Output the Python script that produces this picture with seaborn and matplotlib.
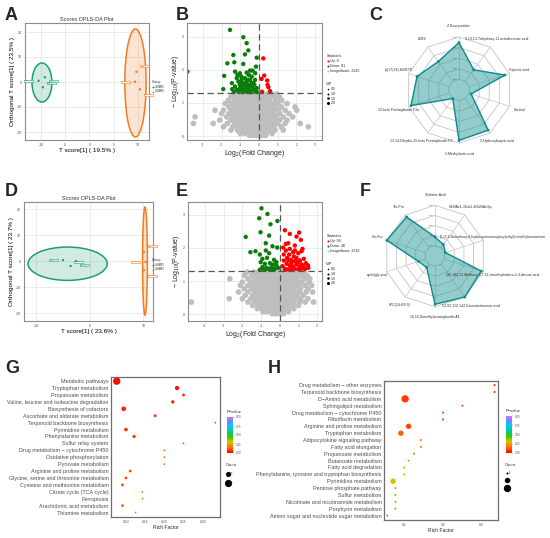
import numpy as np
import pandas as pd
import matplotlib
matplotlib.use("Agg")
import matplotlib.pyplot as plt
import seaborn as sns
from matplotlib.patches import Ellipse
from matplotlib.lines import Line2D
from matplotlib.colors import LinearSegmentedColormap, Normalize
from matplotlib.cm import ScalarMappable

# ---------------- data ----------------
group_names = ["G-HM5V", "G-HM6V"]
group_colors = ["#1B9E77", "#F47B20"]
sample_group = [0, 0, 0, 1, 1, 1]
sample_names = ["HM5V-1", "HM5V-2", "HM5V-3", "HM6V-1", "HM6V-2", "HM6V-3"]

# A: OPLS-DA scores
a_t = [-10.5, -9.6, -9.2, 9.7, 9.4, 10.4]
a_ortho = [0.5, -2.1, 1.9, 4.1, 0.1, -2.9]
a_ell_center = [(-9.8, -0.2), (9.5, -0.4)]
a_ell_size = [(4.1, 15.6), (4.4, 43.2)]
a_xlabel = "T score[1] ( 19.5% )"
a_ylabel = "Orthogonal T score[1] ( 23.5% )"

# D: OPLS-DA scores
d_t = [-5.0, -3.6, -2.6, 10.1, 10.4, 10.1]
d_ortho = [0.4, -1.9, 0.0, 3.6, -0.3, -3.5]
d_ell_center = [(-4.15, -1.0), (10.3, 0.0)]
d_ell_size = [(14.8, 12.8), (0.9, 41.5)]
d_xlabel = "T score[1] ( 23.6% )"
d_ylabel = "Orthogonal T score[1] ( 23.7% )"

# B: volcano
b_counts = [8, 81, 2325]
b_up_x = [0.23, 0.14, 0.28, 0.44, 0.46, 0.5, 0.59, 0.16]
b_up_y = [2.35, 1.73, 1.83, 1.68, 1.55, 1.48, 1.36, 1.34]
b_down_x = [-3.83, -1.55, -0.84, -0.66, -0.57, -0.75, -1.37, -1.32, -1.69, -0.84, -0.12, -0.34,
            -0.16, -1.86, -1.28, -1.02, -0.66, -0.48, -1.91, -1.43, -1.19, -1.1, -1.02, -0.93,
            -0.84, -0.75, -0.66, -0.57, -0.48, -0.39, -0.3, -0.21, -1.28, -1.19, -1.1, -1.02,
            -0.93, -0.84, -0.75, -0.66, -0.57, -0.48, -0.39, -0.3, -0.21, -0.12, -0.93, -0.75,
            -0.57, -0.39, -1.0, -0.7, -0.5, -0.25, -0.1, -1.35, -0.85, -0.6, -0.45, -0.2,
            -0.55, -1.15, -1.45, -0.95]
b_down_y = [1.95, 3.21, 2.99, 2.81, 2.59, 2.47, 2.45, 2.23, 2.2, 2.18, 2.37, 1.98,
            2.1, 1.82, 1.95, 1.9, 1.92, 1.98, 1.42, 1.42, 1.75, 1.65, 1.55, 1.7,
            1.6, 1.75, 1.65, 1.55, 1.7, 1.8, 1.6, 1.7, 1.5, 1.4, 1.35, 1.45,
            1.38, 1.48, 1.4, 1.35, 1.45, 1.38, 1.5, 1.42, 1.35, 1.45, 1.55, 1.55,
            1.7, 1.6, 1.62, 1.48, 1.52, 1.55, 1.33, 1.33, 1.33, 1.33, 1.33, 1.9,
            1.85, 1.85, 1.6, 1.8]
b_gray_rows = [
    (1.27, [-1.35, -1.1, -0.9, -0.7, -0.5, -0.35, -0.2, -0.05, 0.1, 0.25, 0.45, 0.7, 0.95]),
    (1.18, [-1.5, -1.2, -1.0, -0.8, -0.6, -0.45, -0.3, -0.15, 0.0, 0.15, 0.3, 0.5, 0.8, 1.1, 0.95]),
    (1.08, [-1.65, -1.3, -1.1, -0.9, -0.7, -0.55, -0.4, -0.25, -0.1, 0.05, 0.2, 0.35, 0.55, 0.9, 1.22]),
    (0.98, [-1.8, -1.45, -1.2, -1.0, -0.8, -0.65, -0.5, -0.35, -0.2, -0.05, 0.1, 0.25, 0.45, 0.7, 1.0, 1.5]),
    (0.88, [-1.6, -1.3, -1.05, -0.85, -0.7, -0.55, -0.4, -0.25, -0.1, 0.05, 0.2, 0.4, 0.6, 0.85, 1.2, 1.93]),
    (0.78, [-2.35, -1.9, -1.5, -1.2, -1.0, -0.8, -0.65, -0.5, -0.35, -0.2, -0.05, 0.1, 0.3, 0.5, 0.75, 1.05, 1.4, 2.02]),
    (0.68, [-2.0, -1.6, -1.3, -1.1, -0.9, -0.75, -0.6, -0.45, -0.3, -0.15, 0.0, 0.15, 0.35, 0.55, 0.8, 1.1, 1.6]),
    (0.58, [-3.42, -1.73, -1.4, -1.15, -0.95, -0.8, -0.65, -0.5, -0.35, -0.2, -0.05, 0.1, 0.25, 0.45, 0.65, 0.9, 1.3, 1.8]),
    (0.48, [-2.1, -1.5, -1.2, -1.0, -0.85, -0.7, -0.55, -0.4, -0.25, -0.1, 0.05, 0.2, 0.35, 0.55, 0.8, 1.1, 1.5]),
    (0.38, [-3.51, -2.45, -1.7, -1.3, -1.05, -0.9, -0.75, -0.6, -0.45, -0.3, -0.15, 0.0, 0.15, 0.3, 0.5, 0.7, 1.0, 1.4, 2.2]),
    (0.28, [-1.9, -1.4, -1.1, -0.9, -0.7, -0.55, -0.4, -0.25, -0.1, 0.05, 0.2, 0.35, 0.55, 0.8, 1.2, 2.64]),
    (0.18, [-1.5, -1.15, -0.9, -0.7, -0.55, -0.4, -0.25, -0.1, 0.05, 0.2, 0.35, 0.55, 0.85, 1.3]),
    (0.08, [-1.0, -0.75, -0.55, -0.4, -0.25, -0.1, 0.05, 0.2, 0.4, 0.7]),
    (0.02, [-0.5, -0.3, -0.15, 0.0, 0.15, 0.35]),
]

# E: volcano
e_counts = [58, 46, 2310]
e_up_x = [0.27, 0.53, 1.03, 0.89, 1.12, 0.32, 0.45, 0.18, 0.32, 0.53, 0.8, 1.21, 1.16, 0.21,
          0.5, 0.75, 0.89, 0.59, 0.8, 0.98, 1.28, 1.39, 0.36, 0.53, 0.71, 0.89, 1.07, 1.21,
          1.34, 0.27, 0.45, 0.62, 0.8, 0.98, 0.21, 0.71, 0.98, 0.39, 1.07, 1.52, 0.14, 0.62,
          1.16, 0.45, 0.8, 1.25, 0.3, 1.1, 1.5]
e_up_y = [2.53, 2.42, 2.46, 2.34, 2.24, 2.12, 2.14, 2.01, 1.92, 1.97, 2.07, 1.97, 1.9, 1.8,
          1.8, 1.74, 1.7, 1.64, 1.6, 1.57, 1.67, 1.54, 1.52, 1.47, 1.44, 1.5, 1.44, 1.4,
          1.37, 1.37, 1.36, 1.36, 1.37, 1.36, 1.62, 1.87, 1.84, 1.7, 1.62, 1.4, 1.45, 1.55,
          1.5, 1.62, 1.92, 1.45, 1.34, 1.34, 1.47]
e_down_x = [-0.98, -0.66, -1.1, -0.13, -0.5, -1.03, -1.82, -0.57, -0.75, -0.39, -0.14, -1.57,
            -1.3, -1.07, -0.75, -0.57, -0.93, -0.68, -0.31, -1.02, -0.8, -0.53, -0.18, -0.93,
            -0.71, -0.44, -0.27, -0.09, -0.62, -0.86, -0.18, -0.36, -0.53, -0.8, -0.32, -1.07]
e_down_y = [3.19, 3.02, 2.89, 2.81, 2.71, 2.47, 2.33, 2.37, 2.14, 2.05, 2.01, 1.87,
            1.9, 1.8, 1.92, 1.84, 1.67, 1.7, 1.64, 1.57, 1.52, 1.54, 1.47, 1.42,
            1.4, 1.42, 1.37, 1.4, 1.37, 1.37, 1.57, 1.5, 1.34, 1.34, 1.34, 1.34]
e_gray_rows = [
    (1.27, [-1.75, -1.4, -1.15, -0.95, -0.75, -0.6, -0.45, -0.3, -0.15, 0.0, 0.15, 0.3, 0.5, 0.75, 1.0, 1.3]),
    (1.17, [-1.9, -1.5, -1.25, -1.05, -0.85, -0.7, -0.55, -0.4, -0.25, -0.1, 0.05, 0.2, 0.4, 0.6, 0.85, 1.15, 1.45]),
    (1.07, [-2.67, -1.7, -1.35, -1.1, -0.9, -0.75, -0.6, -0.45, -0.3, -0.15, 0.0, 0.15, 0.3, 0.5, 0.7, 0.95, 1.3, 1.6]),
    (0.97, [-2.0, -1.55, -1.25, -1.0, -0.85, -0.7, -0.55, -0.4, -0.25, -0.1, 0.05, 0.2, 0.4, 0.6, 0.85, 1.15, 1.55]),
    (0.87, [-2.1, -1.7, -1.4, -1.15, -0.95, -0.8, -0.65, -0.5, -0.35, -0.2, -0.05, 0.1, 0.25, 0.45, 0.7, 1.0, 1.35, 1.7]),
    (0.77, [-1.9, -1.5, -1.25, -1.05, -0.9, -0.75, -0.6, -0.45, -0.3, -0.15, 0.0, 0.15, 0.35, 0.55, 0.8, 1.1, 1.5]),
    (0.67, [-2.2, -1.7, -1.35, -1.1, -0.95, -0.8, -0.65, -0.5, -0.35, -0.2, -0.05, 0.1, 0.3, 0.5, 0.75, 1.05, 1.4, 1.75]),
    (0.57, [-1.85, -1.45, -1.2, -1.0, -0.85, -0.7, -0.55, -0.4, -0.25, -0.1, 0.05, 0.2, 0.4, 0.6, 0.9, 1.25]),
    (0.47, [-2.7, -2.0, -1.55, -1.25, -1.05, -0.9, -0.75, -0.6, -0.45, -0.3, -0.15, 0.0, 0.15, 0.35, 0.55, 0.8, 1.1, 1.5]),
    (0.37, [-4.72, -1.7, -1.35, -1.1, -0.9, -0.75, -0.6, -0.45, -0.3, -0.15, 0.0, 0.15, 0.3, 0.5, 0.75, 1.05, 1.35, 1.8]),
    (0.27, [-1.45, -1.15, -0.95, -0.8, -0.65, -0.5, -0.35, -0.2, -0.05, 0.1, 0.25, 0.45, 0.7, 1.0]),
    (0.17, [-1.2, -0.95, -0.75, -0.6, -0.45, -0.3, -0.15, 0.0, 0.15, 0.3, 0.5, 0.75]),
    (0.08, [-0.9, -0.7, -0.5, -0.35, -0.2, -0.05, 0.1, 0.25, 0.45]),
    (0.02, [-0.4, -0.2, 0.0, 0.2]),
]
vip_levels = [0.5, 1.0, 1.5, 2.0]

# C / F: radar charts
c_labels = ["2'-Deoxyuridine", "9,10,13-Trihydroxy-11-octadecenoic acid", "Glyceric acid", "Cortisol",
            "2-Hydroxybutyric acid", "2-Methyllactic acid", "13,14-Dihydro-15-keto Prostaglandin F2",
            "15-keto Prostaglandin F2\u03b1", "(\u00b1)17(18)-DiHETE", "LXB4"]
c_values = [0.87, 0.34, 0.89, 0.05, 0.92, 0.94, 0.0, 0.94, 0.79, 0.58]
f_labels = ["Shikimic Acid", "GlcNAc1-3Gal1-4GlcNAcSp",
            "(2-(3,4-Dimethoxy-6-hydroxycinnamoyloxy)ethyl)trimethylammonium",
            "(2E,4E)-12-Methoxy-3,7,11-trimethyltrideca-2,4-dienoic acid",
            "5Z,8Z,11Z,14Z-Eicosatetraenoic acid", "16,16-Dimethylprostaglandin A1",
            "LPC(24:6/0:0)", "cyclo(gly-pro)", "His-Pro", "Thr-Pro"]
f_values = [0.22, 0.1, 0.02, 0.95, 1.0, 0.94, 0.1, 0.18, 1.0, 0.94]
radar_levels = [0.0, 0.25, 0.5, 0.75, 1.0]
radar_ticklabels = ["0.00", "0.25", "0.50", "0.75", "1.00"]

# G / H: KEGG enrichment
g_pathways = ["Metabolic pathways", "Tryptophan metabolism", "Propanoate metabolism",
              "Valine, leucine and isoleucine degradation", "Biosynthesis of cofactors",
              "Ascorbate and aldarate metabolism", "Terpenoid backbone biosynthesis",
              "Pyrimidine metabolism", "Phenylalanine metabolism", "Sulfur relay system",
              "Drug metabolism \u2212 cytochrome P450", "Oxidative phosphorylation",
              "Pyruvate metabolism", "Arginine and proline metabolism",
              "Glycine, serine and threonine metabolism", "Cysteine and methionine metabolism",
              "Citrate cycle (TCA cycle)", "Ferroptosis", "Arachidonic acid metabolism",
              "Thiamine metabolism"]
g_rich = [0.076, 0.233, 0.25, 0.222, 0.094, 0.176, 0.333, 0.1, 0.121, 0.25,
          0.2, 0.2, 0.2, 0.111, 0.1, 0.091, 0.143, 0.143, 0.091, 0.125]
g_count = [21, 7, 3, 4, 8, 3, 1, 5, 4, 1, 1, 1, 1, 3, 3, 3, 1, 1, 3, 1]
g_pval = [0.01, 0.02, 0.05, 0.03, 0.04, 0.06, 0.08, 0.07, 0.08, 0.09,
          0.13, 0.13, 0.13, 0.11, 0.11, 0.12, 0.16, 0.16, 0.13, 0.17]
g_count_legend = [10, 20]

h_pathways = ["Drug metabolism \u2212 other enzymes", "Terpenoid backbone biosynthesis",
              "D\u2212Amino acid metabolism", "Sphingolipid metabolism",
              "Drug metabolism \u2212 cytochrome P450", "Riboflavin metabolism",
              "Arginine and proline metabolism", "Tryptophan metabolism",
              "Adipocytokine signaling pathway", "Fatty acid elongation", "Propanoate metabolism",
              "Butanoate metabolism", "Fatty acid degradation",
              "Phenylalanine, tyrosine and tryptophan biosynthesis", "Pyrimidine metabolism",
              "Pentose phosphate pathway", "Sulfur metabolism",
              "Nicotinate and nicotinamide metabolism", "Porphyrin metabolism",
              "Amino sugar and nucleotide sugar metabolism"]
h_rich = [0.333, 0.333, 0.102, 0.25, 0.2, 0.2, 0.111, 0.091, 0.143, 0.143,
          0.125, 0.111, 0.1, 0.1, 0.071, 0.077, 0.077, 0.077, 0.077, 0.056]
h_count = [1, 1, 3, 1, 1, 1, 2, 2, 1, 1, 1, 1, 1, 1, 2, 1, 1, 1, 1, 1]
h_pval = [0.06, 0.06, 0.08, 0.09, 0.09, 0.09, 0.1, 0.14, 0.18, 0.18,
          0.19, 0.22, 0.25, 0.25, 0.31, 0.37, 0.38, 0.38, 0.38, 0.5]
h_count_legend = [1, 2, 3]

pval_colors = ["#FF0000", "#FF6A00", "#E0C000", "#33CC00", "#00CC99", "#00CCFF", "#6688FF", "#CC77FF"]
pval_nodes = [0.0, 0.15, 0.3, 0.45, 0.6, 0.75, 0.88, 1.0]

# ---------------- style ----------------
sns.set_style("white")
plt.rcParams['font.family'] = ['Liberation Sans', 'DejaVu Sans']
plt.rcParams['axes.unicode_minus'] = False
plt.rcParams['mathtext.default'] = 'regular'

W, H = 550, 538
fig = plt.figure(figsize=(W / 100, H / 100), dpi=100)
TXT = "#333333"
TICK = "#4D4D4D"


def px_axes(x0, y0, x1, y1):
    return fig.add_axes([x0 / W, 1 - y1 / H, (x1 - x0) / W, (y1 - y0) / H])


def fx(x):
    return x / W


def fy(y):
    return 1 - y / H


def panel_letter(x, y, s):
    fig.text(fx(x), fy(y), s, fontsize=13, fontweight='bold', ha='left', va='top')


def bw_axes(ax):
    ax.set_facecolor('white')
    for sp in ax.spines.values():
        sp.set_color('#8C8C8C')
        sp.set_linewidth(0.8)
    ax.grid(True, color='#E5E5E5', lw=0.5)
    ax.set_axisbelow(True)
    ax.tick_params(labelsize=2.5, colors=TICK, length=1.2, width=0.4, pad=1)


label_offsets = [(-7, 0), (6, 3), (6, -3), (6, 4), (-7, 0), (6, -4)]


def opls(ax, tx, ty, centers, sizes, xlim, ylim, xticks, xlab, ylab, leg_y):
    bw_axes(ax)
    for (cx, cy), (w, h), col in zip(centers, sizes, group_colors):
        ax.add_patch(Ellipse((cx, cy), w, h, fc=col, alpha=0.2, ec='none'))
        ax.add_patch(Ellipse((cx, cy), w, h, fc='none', ec=col, lw=1.1))
    df = pd.DataFrame(dict(t=tx, o=ty, g=[group_names[i] for i in sample_group]))
    sns.scatterplot(data=df, x='t', y='o', hue='g', palette=group_colors, s=3,
                    edgecolor='none', legend=False, ax=ax)
    for i, (x, y) in enumerate(zip(tx, ty)):
        col = group_colors[sample_group[i]]
        ax.annotate(sample_names[i], (x, y), xytext=label_offsets[i], textcoords='offset points',
                    fontsize=1.6, color=col, ha='center', va='center',
                    bbox=dict(boxstyle='square,pad=0.25', fc='white', ec=col, lw=0.4))
    ax.set_xlim(*xlim)
    ax.set_ylim(*ylim)
    ax.set_xticks(xticks)
    ax.set_yticks([-20, -10, 0, 10, 20])
    ax.set_title("Scores OPLS-DA Plot", fontsize=4, color=TXT, pad=1.5)
    ax.set_xlabel(xlab, fontsize=4.6, color='black', labelpad=1)
    ax.set_ylabel(ylab, fontsize=4.6, color='black', labelpad=1)
    handles = [Line2D([], [], ls='', marker='o', ms=1.4, mfc=c, mec='none') for c in group_colors]
    fig.legend(handles, group_names, title="Group", loc='upper left',
               bbox_to_anchor=(fx(151), fy(leg_y)), frameon=False, fontsize=1.8,
               title_fontsize=2.4, handlelength=0.8, handletextpad=0.3, labelspacing=0.3,
               borderaxespad=0, alignment='left')


def expand(rows):
    xs = [x for y, row in rows for x in row]
    ys = [y for y, row in rows for x in row]
    return xs, ys


def volcano(ax, gray_rows, up_x, up_y, dn_x, dn_y, counts, xlim, ylim, xticks, leg_y):
    bw_axes(ax)
    gx, gy = expand(gray_rows)
    sns.scatterplot(x=gx, y=gy, color='#BEBEBE', s=17, edgecolor='none', ax=ax, legend=False)
    sns.scatterplot(x=dn_x, y=dn_y, color='#0A7D0A', s=10, edgecolor='none', ax=ax, legend=False)
    sns.scatterplot(x=up_x, y=up_y, color='#FF0000', s=10, edgecolor='none', ax=ax, legend=False)
    ax.axvline(0, color='#555555', lw=0.9, ls=(0, (5, 3)))
    ax.axhline(-np.log10(0.05), color='#555555', lw=0.9, ls=(0, (5, 3)))
    ax.set_xlim(*xlim)
    ax.set_ylim(*ylim)
    ax.set_xticks(xticks)
    ax.set_yticks([0, 1, 2, 3])
    ax.set_xlabel("Log$_{2}$(Fold Change)", fontsize=5, labelpad=1)
    ax.set_ylabel("\u2212 Log$_{10}$(P-value)", fontsize=5, labelpad=1)
    hs = [Line2D([], [], ls='', marker='o', ms=1.5, mfc=c, mec='none')
          for c in ['#FF0000', '#0A7D0A', '#BEBEBE']]
    labs = ["Up: %d" % counts[0], "Down: %d" % counts[1], "Insignificant: %d" % counts[2]]
    fig.legend(hs, labs, title="Statistics", loc='upper left', bbox_to_anchor=(fx(325), fy(leg_y)),
               frameon=False, fontsize=2.6, title_fontsize=2.8, handlelength=0.8,
               handletextpad=0.3, labelspacing=0.25, borderaxespad=0, alignment='left')
    hv = [Line2D([], [], ls='', marker='o', ms=0.7 + 0.75 * v, mfc='black', mec='none') for v in vip_levels]
    fig.legend(hv, ["%.1f" % v for v in vip_levels], title="VIP", loc='upper left',
               bbox_to_anchor=(fx(325), fy(leg_y + 28)), frameon=False, fontsize=2.6,
               title_fontsize=2.8, handlelength=0.8, handletextpad=0.3, labelspacing=0.2,
               borderaxespad=0, alignment='left')


def radar(ax, labels, values, lim):
    n = len(labels)
    ang = np.pi / 2 - 2 * np.pi * np.arange(n) / n
    r0 = 0.2
    rad = lambda v: r0 + (1 - r0) * np.asarray(v, dtype=float)
    close = lambda a: np.append(a, a[0])
    for lev in radar_levels:
        r = rad(lev)
        ax.plot(close(r * np.cos(ang)), close(r * np.sin(ang)), color='#C4C4C4', lw=0.6, zorder=1)
    for a in ang:
        ax.plot([r0 * np.cos(a), np.cos(a)], [r0 * np.sin(a), np.sin(a)], color='#C4C4C4', lw=0.5, zorder=1)
    r = rad(values)
    px, py = r * np.cos(ang), r * np.sin(ang)
    ax.fill(px, py, color='#2A9898', alpha=0.5, lw=0, zorder=2)
    ax.plot(close(px), close(py), color='#0A8C8C', lw=1.0, zorder=3)
    sns.scatterplot(x=px, y=py, color='#0A8C8C', s=4, edgecolor='none', ax=ax, legend=False, zorder=4)
    for a, lab in zip(ang, labels):
        ax.text(1.2 * np.cos(a), 1.2 * np.sin(a), lab, ha='center', va='center', fontsize=2.5, color=TXT)
    for lev, tl in zip(radar_levels, radar_ticklabels):
        ax.text(-0.03, rad(lev), tl, ha='right', va='center', fontsize=1.6, color='#555555')
    ax.set_xlim(-lim, lim)
    ax.set_ylim(-lim, lim)
    ax.axis('off')
    ax.patch.set_alpha(0)


pcmap = LinearSegmentedColormap.from_list("pval", list(zip(pval_nodes, pval_colors)))


def dotplot(ax, paths, rich, count, pval, sizes, size_norm, xlim, xticks, xticklabels,
            cbar_box, leg_counts, leg_y, leg_space):
    df = pd.DataFrame(dict(path=paths, rich=rich, count=count, p=pval, pos=np.arange(len(paths))))
    sns.scatterplot(data=df, x='rich', y='pos', hue='p', hue_norm=(0, 1), palette=pcmap,
                    size='count', sizes=sizes, size_norm=size_norm, edgecolor='none',
                    legend=False, ax=ax)
    ax.set_facecolor('white')
    for sp in ax.spines.values():
        sp.set_color('#6E6E6E')
        sp.set_linewidth(0.9)
    ax.set_yticks(df.pos)
    ax.set_yticklabels(paths)
    ax.set_ylim(len(paths) - 0.35, -0.6)
    ax.set_xlim(*xlim)
    ax.set_xticks(xticks)
    ax.set_xticklabels(xticklabels)
    ax.tick_params(axis='y', labelsize=3.9, labelcolor=TICK, length=1.2, width=0.8, color='black', pad=0.6)
    ax.tick_params(axis='x', labelsize=2.4, labelcolor=TICK, length=1.0, width=0.5, color='black', pad=1)
    ax.set_xlabel("Rich Factor", fontsize=3.6, labelpad=1)
    ax.set_ylabel("")
    cax = px_axes(*cbar_box)
    cb = fig.colorbar(ScalarMappable(Normalize(0, 1), pcmap), cax=cax)
    cb.set_ticks([0, 0.25, 0.5, 0.75, 1.0])
    cb.set_ticklabels(["0.00", "0.25", "0.50", "0.75", "1.00"])
    cb.ax.tick_params(labelsize=2.0, length=1, width=0.3, colors=TICK, pad=1)
    cb.outline.set_visible(False)
    fig.text(fx(cbar_box[0]), fy(cbar_box[1] - 3), "P\u2212value", fontsize=3, ha='left', va='bottom')
    smin, smax = sizes
    nmin, nmax = size_norm
    hs = [Line2D([], [], ls='', marker='o', ms=np.sqrt(smin + (c - nmin) / (nmax - nmin) * (smax - smin)),
                 mfc='black', mec='none') for c in leg_counts]
    fig.legend(hs, [str(c) for c in leg_counts], title="Count", loc='upper left',
               bbox_to_anchor=(fx(cbar_box[0] - 2), fy(leg_y)), frameon=False, fontsize=2.2,
               title_fontsize=3, handlelength=1.0, handletextpad=0.3, labelspacing=leg_space,
               borderaxespad=0, alignment='left')


# ---------------- panels ----------------
ax_a = px_axes(25, 23, 149, 140)
opls(ax_a, a_t, a_ortho, a_ell_center, a_ell_size, (-13.3, 12.3), (-23.2, 23.6),
     [-10, -5, 0, 5, 10], a_xlabel, a_ylabel, 79)

ax_d = px_axes(24, 202, 153, 321)
opls(ax_d, d_t, d_ortho, d_ell_center, d_ell_size, (-12.3, 11.8), (-23.0, 22.7),
     [-10, 0, 10], d_xlabel, d_ylabel, 257)

ax_b = px_axes(187, 23, 322, 140)
volcano(ax_b, b_gray_rows, b_up_x, b_up_y, b_down_x, b_down_y, b_counts,
        (-3.85, 3.37), (-0.12, 3.42), [-3, -2, -1, 0, 1, 2, 3], 53)

ax_e = px_axes(188, 202, 322, 321)
volcano(ax_e, e_gray_rows, e_up_x, e_up_y, e_down_x, e_down_y, e_counts,
        (-4.9, 2.25), (-0.2, 3.38), [-4, -3, -2, -1, 0, 1, 2], 233)

ax_c = px_axes(369, 0, 549, 180)
radar(ax_c, c_labels, c_values, 90 / 53)

ax_f = px_axes(345, 166, 525, 346)
radar(ax_f, f_labels, f_values, 90 / 50.7)

ax_g = px_axes(111, 377, 220, 517)
dotplot(ax_g, g_pathways, g_rich, g_count, g_pval, (1.5, 28), (1, 21),
        (0.061, 0.345), [0.10, 0.15, 0.20, 0.25, 0.30], ["0.10", "0.15", "0.20", "0.25", "0.30"],
        (227, 417, 233, 453), g_count_legend, 462, 1.6)

ax_h = px_axes(384, 381, 498, 520)
dotplot(ax_h, h_pathways, h_rich, h_count, h_pval, (2.2, 28), (1, 3),
        (0.0475, 0.342), [0.1, 0.2, 0.3], ["0.1", "0.2", "0.3"],
        (506, 416, 512, 453), h_count_legend, 462, 1.2)

for x, y, s in [(5, 7, "A"), (176, 7, "B"), (369, 7, "C"), (5, 183, "D"), (176, 183, "E"),
                (360, 183, "F"), (5, 360, "G"), (268, 360, "H")]:
    panel_letter(x, y, s)

fig.savefig("out.png", dpi=100)
